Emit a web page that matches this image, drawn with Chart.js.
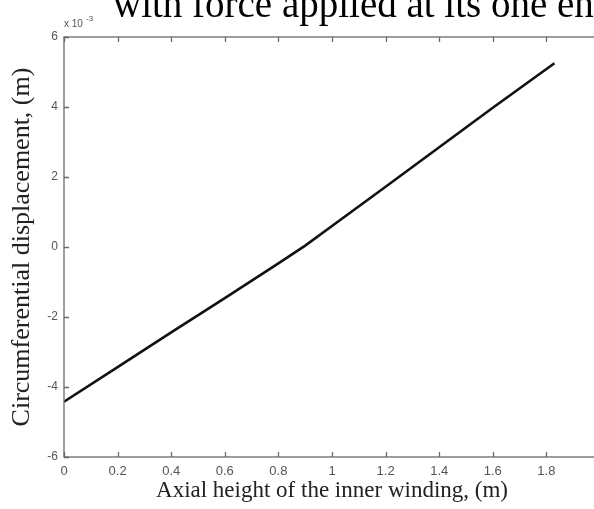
<!DOCTYPE html>
<html>
<head>
<meta charset="utf-8">
<script src="https://cdn.jsdelivr.net/npm/chart.js@4.4.1/dist/chart.umd.min.js"></script>
<style>
  html, body { margin: 0; padding: 0; background: #fff; overflow: hidden; }
  #wrap { width: 594px; height: 509px; overflow: hidden; }
</style>
</head>
<body>
<div id="wrap"><canvas id="Chart1" width="640" height="509"></canvas></div>
<script>
// axial height along the winding (m) and the circumferential displacement (x 1e-3 m)
var heights = [0, 0.2, 0.4, 0.6, 0.8, 0.9, 1.0, 1.2, 1.4, 1.6, 1.83];
var displacement = [-4.42, -3.43, -2.44, -1.46, -0.47, 0.04, 0.6, 1.72, 2.85, 3.98, 5.25];
var xTicks = [0, 0.2, 0.4, 0.6, 0.8, 1, 1.2, 1.4, 1.6, 1.8, 2];
var yTicks = [-6, -4, -2, 0, 2, 4, 6];

var axisGray = '#6a6a6a';
var labelGray = '#555';

var points = heights.map(function (h, i) { return { x: h, y: displacement[i] }; });

// box round the plot with inward ticks, the exponent note and the heading
var frame = {
  id: 'frame',
  afterDraw: function (chart) {
    var c = chart.ctx, a = chart.chartArea;
    var sx = chart.scales.x, sy = chart.scales.y;
    c.save();
    c.strokeStyle = axisGray;
    c.lineWidth = 1.3;
    c.strokeRect(a.left, a.top, a.right - a.left, a.bottom - a.top);
    c.beginPath();
    xTicks.forEach(function (t) {
      var px = Math.round(sx.getPixelForValue(t)) + 0.5;
      c.moveTo(px, a.bottom); c.lineTo(px, a.bottom - 5);
      c.moveTo(px, a.top); c.lineTo(px, a.top + 5);
    });
    yTicks.forEach(function (t) {
      var py = Math.round(sy.getPixelForValue(t)) + 0.5;
      c.moveTo(a.left, py); c.lineTo(a.left + 5, py);
      c.moveTo(a.right, py); c.lineTo(a.right - 5, py);
    });
    c.stroke();

    c.fillStyle = labelGray;
    c.font = '10px "Liberation Sans", Arial, sans-serif';
    c.textBaseline = 'alphabetic';
    c.fillText('x 10', a.left, a.top - 10);
    c.font = '8px "Liberation Sans", Arial, sans-serif';
    c.fillText('-3', a.left + 22, a.top - 16);

    c.fillStyle = '#000';
    c.font = '39px "Liberation Serif", "Times New Roman", serif';
    c.fillText('with force applied at its one end', 113, 17);
    c.restore();
  }
};

var ctx1 = document.getElementById('Chart1').getContext('2d');
var myChart1 = new Chart(ctx1, {
  type: 'line',
  data: {
    datasets: [{
      label: 'displacement',
      data: points,
      borderColor: '#111',
      borderWidth: 2.6,
      pointRadius: 0,
      tension: 0,
      fill: false
    }]
  },
  options: {
    responsive: false,
    animation: false,
    layout: { padding: { top: 37, right: 40, bottom: 0, left: 0 } },
    plugins: { legend: { display: false }, tooltip: { enabled: false } },
    scales: {
      x: {
        type: 'linear',
        min: 0,
        max: 2,
        afterBuildTicks: function (s) { s.ticks = xTicks.map(function (v) { return { value: v }; }); },
        afterFit: function (s) { s.height = 52; },
        grid: { display: false, drawTicks: false },
        border: { display: false },
        ticks: {
          padding: 7,
          maxRotation: 0,
          color: labelGray,
          font: { family: '"Liberation Sans", Arial, sans-serif', size: 13 },
          callback: function (v) { return String(v); }
        },
        title: {
          display: true,
          text: 'Axial height of the inner winding, (m)',
          color: '#222',
          padding: { top: 0, bottom: 4 },
          font: { family: '"Liberation Serif", "Times New Roman", serif', size: 23 }
        }
      },
      y: {
        min: -6,
        max: 6,
        afterBuildTicks: function (s) { s.ticks = yTicks.map(function (v) { return { value: v }; }); },
        afterFit: function (s) { s.width = 64; },
        grid: { display: false, drawTicks: false },
        border: { display: false },
        ticks: {
          padding: 6,
          color: labelGray,
          font: { family: '"Liberation Sans", Arial, sans-serif', size: 12 },
          callback: function (v) { return String(v); }
        },
        title: {
          display: true,
          text: 'Circumferential displacement, (m)',
          color: '#222',
          padding: { top: 7, bottom: 2 },
          font: { family: '"Liberation Serif", "Times New Roman", serif', size: 26 }
        }
      }
    }
  },
  plugins: [frame]
});
</script>
</body>
</html>
